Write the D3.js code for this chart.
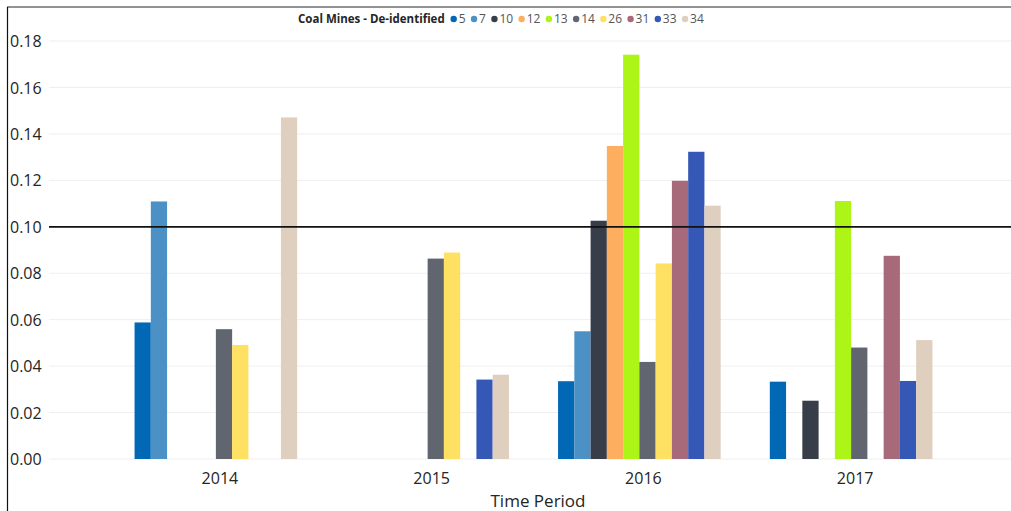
<!DOCTYPE html>
<html>
<head>
<meta charset="utf-8">
<script src="https://cdn.jsdelivr.net/npm/d3@7"></script>
<style>
  body { margin: 0; background: #fff; }
  text { font-family: "Open Sans", "DejaVu Sans", sans-serif; }
</style>
</head>
<body>
<script>
const anos = ["2014", "2015", "2016", "2017"];
const minas = ["5", "7", "10", "12", "13", "14", "26", "31", "33", "34"];
const cores = ["#0168b5", "#4b91c6", "#383e49", "#fdae5f", "#adf417",
               "#60656f", "#fee063", "#a66a7b", "#3558b7", "#dfcfbf"];
// um valor por mina, na ordem de "minas"; null = sem barra
const v2014 = [0.0588, 0.1109, null, null, null, 0.0559, 0.0491, null, null, 0.1471];
const v2015 = [null, null, null, null, null, 0.0863, 0.0889, null, 0.0342, 0.0363];
const v2016 = [0.0335, 0.0550, 0.1026, 0.1348, 0.1741, 0.0418, 0.0842, 0.1198, 0.1323, 0.1091];
const v2017 = [0.0333, null, 0.0251, null, 0.1111, 0.0480, null, 0.0875, 0.0336, 0.0512];
const yTicks = [0, 0.02, 0.04, 0.06, 0.08, 0.10, 0.12, 0.14, 0.16, 0.18];
const referencia = 0.10;

const largura = 1011, altura = 511;
const margens = { c: 41, d: 0, b: 52, e: 49 };

const series = [v2014, v2015, v2016, v2017];
const dados = [];
anos.forEach(function(a, i) {
  minas.forEach(function(m, j) {
    if (series[i][j] !== null) dados.push({ ano: a, mina: m, valor: series[i][j] });
  });
});

const svg = d3.select("body").append("svg")
              .attr("width", largura)
              .attr("height", altura);

// moldura
svg.append("line").attr("x1", 7).attr("x2", largura).attr("y1", 7).attr("y2", 7)
   .attr("stroke", "#6e6e6e").attr("stroke-width", 1.5);
svg.append("line").attr("x1", 7.5).attr("x2", 7.5).attr("y1", 7).attr("y2", altura)
   .attr("stroke", "#111").attr("stroke-width", 1.2);

const yEscala = d3.scaleLinear()
                  .domain([0, 0.18])
                  .range([459, 41]);

const xEscala = d3.scaleBand()
                  .domain(anos)
                  .range([110, 957])
                  .paddingInner(0.232)
                  .paddingOuter(0.116);

const xInterno = d3.scaleBand()
                   .domain(minas)
                   .range([0, xEscala.bandwidth()]);

const cor = d3.scaleOrdinal().domain(minas).range(cores);

// grade
svg.append("g")
   .selectAll("line")
   .data(yTicks)
   .enter()
   .append("line")
   .attr("x1", margens.e)
   .attr("x2", largura)
   .attr("y1", function(d) { return yEscala(d); })
   .attr("y2", function(d) { return yEscala(d); })
   .attr("stroke", "#efefef")
   .attr("stroke-width", 1);

// eixo y
const yEixo = d3.axisLeft(yEscala)
                .tickValues(yTicks)
                .tickFormat(d3.format(".2f"))
                .tickSize(0);

svg.append("g")
   .attr("transform", "translate(10, 0)")
   .call(yEixo)
   .call(function(g) { g.select(".domain").remove(); })
   .selectAll("text")
   .attr("text-anchor", "start")
   .attr("x", 0)
   .attr("dy", "0.35em")
   .attr("fill", "#252525")
   .style("font-size", "16px");

// barras
svg.append("g")
   .selectAll("rect")
   .data(dados)
   .enter()
   .append("rect")
   .attr("x", function(d) { return xEscala(d.ano) + xInterno(d.mina); })
   .attr("y", function(d) { return yEscala(d.valor); })
   .attr("width", xInterno.bandwidth())
   .attr("height", function(d) { return yEscala(0) - yEscala(d.valor); })
   .attr("fill", function(d) { return cor(d.mina); });

// linha de referencia
svg.append("line")
   .attr("x1", margens.e)
   .attr("x2", largura)
   .attr("y1", yEscala(referencia))
   .attr("y2", yEscala(referencia))
   .attr("stroke", "#111")
   .attr("stroke-width", 1.8);

// eixo x
const xEixo = d3.axisBottom(xEscala).tickSize(0);
svg.append("g")
   .attr("transform", "translate(4, " + yEscala(0) + ")")
   .call(xEixo)
   .call(function(g) { g.select(".domain").remove(); })
   .selectAll("text")
   .attr("y", 14)
   .attr("dy", "0.71em")
   .attr("fill", "#252525")
   .style("font-size", "16px");

svg.append("text")
   .attr("x", 538)
   .attr("y", 507)
   .attr("text-anchor", "middle")
   .attr("fill", "#252525")
   .style("font-size", "17px")
   .text("Time Period");

// legenda
const legenda = svg.append("g").attr("transform", "translate(298, 19)");
const titulo = legenda.append("text")
   .attr("dy", "0.35em")
   .attr("fill", "#252525")
   .style("font-size", "11.5px")
   .style("font-weight", "bold")
   .text("Coal Mines - De-identified");

let pos = titulo.node().getComputedTextLength() + 6;
minas.forEach(function(m) {
  legenda.append("circle")
         .attr("cx", pos + 3)
         .attr("cy", 0)
         .attr("r", 3.2)
         .attr("fill", cor(m));
  const t = legenda.append("text")
         .attr("x", pos + 8)
         .attr("dy", "0.35em")
         .attr("fill", "#555")
         .style("font-size", "12px")
         .text(m);
  pos += 8 + t.node().getComputedTextLength() + 5.5;
});
</script>
</body>
</html>
